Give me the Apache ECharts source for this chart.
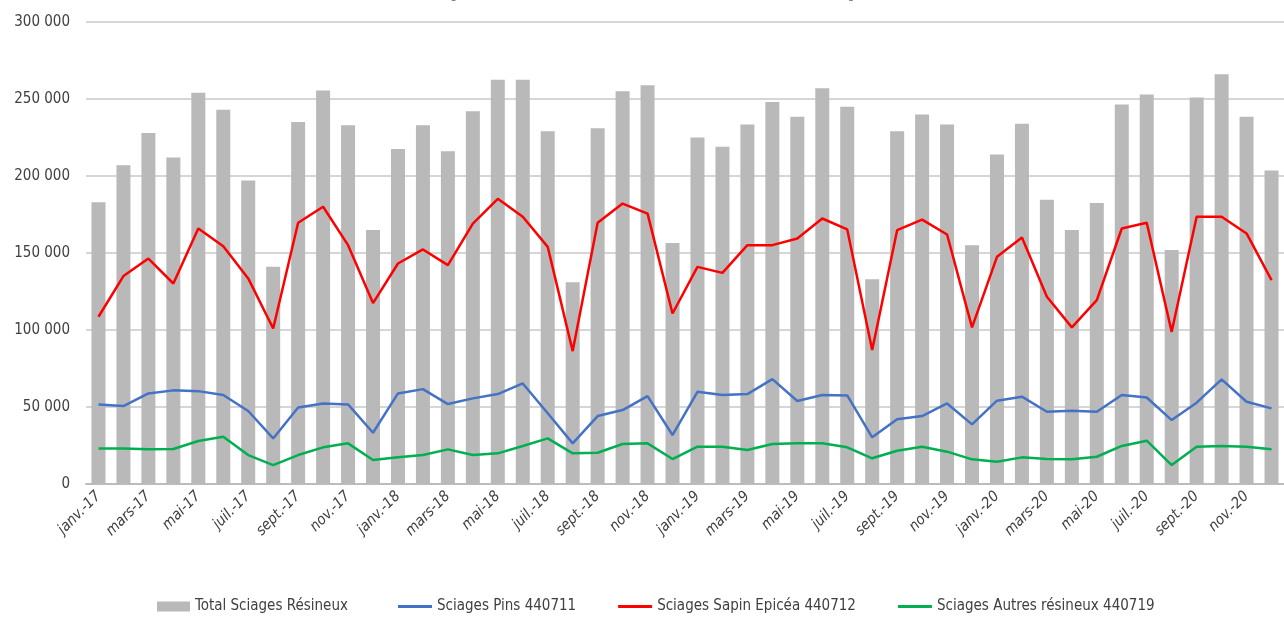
<!DOCTYPE html>
<html>
<head>
<meta charset="utf-8">
<script src="https://cdn.jsdelivr.net/npm/echarts@6/dist/echarts.min.js"></script>
<style>
  html, body { margin: 0; padding: 0; background: #ffffff; }
  #chart { width: 1284px; height: 628px; }
</style>
</head>
<body>
<div id="chart"></div>
<script>
// Monthly categories, January 2017 to December 2020
const monthNames = ['janv.', 'févr.', 'mars', 'avr.', 'mai', 'juin', 'juil.', 'août', 'sept.', 'oct.', 'nov.', 'déc.'];
const years = ['17', '18', '19', '20'];
const categories = [];
years.forEach(y => monthNames.forEach(m => categories.push(m + '-' + y)));

// Total sawn softwood (bars)
const totalResineux = [
  183000, 207000, 228000, 212000, 254000, 243000, 197000, 141000, 235000, 255500, 233000, 165000,
  217500, 233000, 216000, 242000, 262500, 262500, 229000, 131000, 231000, 255000, 259000, 156500,
  225000, 219000, 233500, 248000, 238500, 257000, 245000, 133000, 229000, 240000, 233500, 155000,
  214000, 234000, 184500, 165000, 182500, 246500, 253000, 152000, 251000, 266000, 238500, 203500
];

// Pine (440711)
const pins = [
  51700, 50600, 58800, 60800, 60300, 57800, 47400, 29600, 49700, 52300, 51700, 33300,
  58800, 61600, 51900, 55600, 58400, 65300, 45900, 26400, 44100, 48000, 57100, 31800,
  59900, 57800, 58400, 68100, 53900, 57800, 57500, 30300, 42000, 44100, 52300, 38700,
  54100, 56700, 46900, 47600, 46900, 57800, 56200, 41500, 52800, 67900, 53400, 49100
];

// Fir and spruce (440712)
const sapinEpicea = [
  108600, 135000, 146400, 130200, 165900, 154400, 133500, 101000, 169600, 180000, 155100, 117500,
  143200, 152300, 142100, 169100, 185200, 173500, 154000, 86300, 169600, 182100, 175600, 110700,
  141000, 137100, 155100, 155100, 159400, 172400, 165300, 87000, 164800, 171700, 162000, 101700,
  147500, 160100, 121600, 101700, 119400, 165900, 169600, 98800, 173500, 173500, 162700, 132400
];

// Other softwoods (440719)
const autresResineux = [
  23100, 23100, 22500, 22700, 27900, 30700, 18800, 12300, 18800, 23800, 26400, 15600,
  17300, 18800, 22500, 18800, 19900, 24700, 29600, 19900, 20300, 26000, 26400, 16200,
  24200, 24200, 22100, 26000, 26400, 26400, 23800, 16700, 21600, 24200, 21000, 16000,
  14500, 17300, 16200, 16000, 17700, 24700, 28100, 12300, 24200, 24700, 24200, 22500
];

const seriesNames = [
  'Total Sciages Résineux',
  'Sciages Pins 440711',
  'Sciages Sapin Epicéa 440712',
  'Sciages Autres résineux 440719'
];

const textFont = "'Liberation Sans Narrow', 'DejaVu Sans Condensed', 'Noto Sans', sans-serif";
const textColor = '#404040';
const legendText = { fontFamily: textFont, fontSize: 15, color: textColor };

function spaced(v) {
  return String(v).replace(/\B(?=(\d{3})+(?!\d))/g, ' ');
}

const chart = echarts.init(document.getElementById('chart'), null, { renderer: 'canvas' });

chart.setOption({
  animation: false,
  backgroundColor: '#ffffff',
  graphic: [
    { type: 'text', left: 446, top: -24, style: { text: '(', font: 'bold 28px ' + textFont, fill: '#000' } },
    { type: 'text', left: 847, top: -24, style: { text: ')', font: 'bold 28px ' + textFont, fill: '#000' } }
  ],
  grid: { left: 86, right: -3, top: 22, bottom: 144, containLabel: false },
  legend: [
    {
      // bar swatch
      left: 152,
      top: 594,
      itemWidth: 33,
      itemHeight: 10,
      icon: 'rect',
      textStyle: legendText,
      data: [seriesNames[0]]
    },
    {
      // line swatches drawn as thin strokes
      left: 393,
      top: 594,
      itemGap: 42,
      itemWidth: 34,
      itemHeight: 3,
      icon: 'rect',
      textStyle: legendText,
      data: [seriesNames[1], seriesNames[2], seriesNames[3]]
    }
  ],
  xAxis: {
    type: 'category',
    data: categories,
    boundaryGap: true,
    axisLine: { lineStyle: { color: '#bcbcbc', width: 2 } },
    axisTick: { show: false },
    axisLabel: {
      interval: 1,
      rotate: 45,
      margin: 10,
      fontFamily: textFont,
      fontSize: 15,
      fontStyle: 'italic',
      color: textColor
    }
  },
  yAxis: {
    type: 'value',
    min: 0,
    max: 300000,
    interval: 50000,
    axisLine: { show: false },
    axisTick: { show: false },
    splitLine: { lineStyle: { color: '#c8c8c8', width: 1.5 } },
    axisLabel: {
      margin: 16,
      fontFamily: textFont,
      fontSize: 15,
      color: textColor,
      formatter: v => spaced(v)
    }
  },
  series: [
    {
      name: seriesNames[0],
      type: 'bar',
      data: totalResineux,
      barWidth: 14,
      itemStyle: { color: '#b9b9b9' },
      z: 1
    },
    {
      name: seriesNames[1],
      type: 'line',
      data: pins,
      symbol: 'none',
      lineStyle: { color: '#4472c4', width: 2.5 },
      itemStyle: { color: '#4472c4' },
      z: 3
    },
    {
      name: seriesNames[2],
      type: 'line',
      data: sapinEpicea,
      symbol: 'none',
      lineStyle: { color: '#ff0000', width: 2.5 },
      itemStyle: { color: '#ff0000' },
      z: 3
    },
    {
      name: seriesNames[3],
      type: 'line',
      data: autresResineux,
      symbol: 'none',
      lineStyle: { color: '#00b050', width: 2.5 },
      itemStyle: { color: '#00b050' },
      z: 3
    }
  ]
});
</script>
</body>
</html>
